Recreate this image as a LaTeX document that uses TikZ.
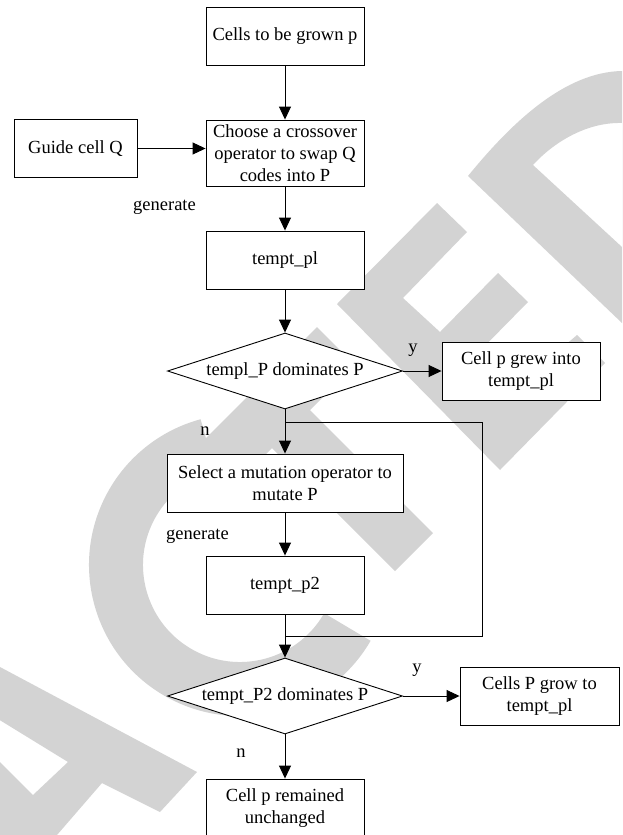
\documentclass[tikz,border=0pt]{standalone}
\usepackage{fontspec}
\setmainfont{Liberation Serif}
\usetikzlibrary{shapes.geometric,arrows.meta}
\definecolor{wmark}{RGB}{211,211,211}
\tikzset{
  box/.style={draw, fill=white, line width=0.9pt, minimum width=158pt, minimum height=58pt, align=center, inner sep=1pt},
  decision/.style={draw, fill=white, line width=0.9pt, diamond, aspect=3.1, minimum width=235pt, minimum height=76pt, inner sep=0pt},
  flow/.style={line width=0.9pt, -{Triangle[length=13pt,width=12pt]}},
  tag/.style={inner sep=0pt},
}
\begin{document}
\begin{tikzpicture}[x=1pt, y=-1pt, font=\fontsize{18.5pt}{22pt}\selectfont]
\useasboundingbox (0,0) rectangle (622,835);

% Watermark
\begin{scope}
  \clip (0,0) rectangle (622,835);
  \fill[wmark, even odd rule] (468,176) .. controls (512,122) and (565,72) .. (622,71) -- (622,323) -- cycle
    (533,165) .. controls (552,144) and (585,122) .. (622,123) -- (622,247) -- cycle;
  \fill[wmark] (337,304) -- (437,203) -- (467,232) -- (403,298) -- (440,332) -- (498,273) -- (528,302)
    -- (470,361) -- (507,395) -- (577,335) -- (605,363) -- (500,470) -- cycle;
  \fill[wmark] (317,327) -- (189,455) -- (227,493) -- (272,448) -- (395,571) -- (433,533) -- (310,410) -- (355,365) -- cycle;
  \draw[wmark, line width=54pt] (240,565) ++(30:124) arc[start angle=30, end angle=255, radius=124];
  \fill[wmark, even odd rule] (0,667) -- (197,772) -- (160,812) -- (102,783) -- (57,835) -- (-2,835) -- (-2,667) -- cycle
    (-2,719) -- (68,762) -- (33,795) -- (-2,760) -- cycle;
\end{scope}

% Steps
\node[box] (grown) at (285,36.5) {Cells to be grown p};
\node[box, minimum width=123pt] (guide) at (75.5,148.5) {Guide cell Q};
\node[box, minimum height=66pt] (choose) at (285,153) {Choose a crossover\\operator to swap Q\\codes into P};
\node[box] (temptpl) at (285,260) {tempt\_pl};
\node[decision] (dom1) at (285,371) {templ\_P dominates P};
\node[box] (grew) at (521,371) {Cell p grew into\\tempt\_pl};
\node[box, minimum width=236pt] (select) at (285,483) {Select a mutation operator to\\mutate P};
\node[box] (temptp2) at (285,585) {tempt\_p2};
\node[decision] (dom2) at (285,696) {tempt\_P2 dominates P};
\node[box, minimum width=159pt] (grow) at (539.5,696) {Cells P grow to\\tempt\_pl};
\node[box] (unchanged) at (285,808) {Cell p remained\\unchanged};

% Labels
\node[tag] (gen1) at (164.5,207) {generate};
\node[tag] (gen2) at (197.5,536) {generate};
\node[tag] (yes1) at (413,350) {y};
\node[tag] (yes2) at (417,670) {y};
\node[tag] (no1) at (205,431) {n};
\node[tag] (no2) at (241,753) {n};

% Arrows
\draw[flow] (grown) -- (choose);
\draw[flow] (guide.east) -- (guide.east -| choose.west);
\draw[flow] (choose) -- (temptpl);
\draw[flow] (temptpl) -- (dom1);
\draw[flow] (dom1) -- (grew);
\draw[flow] (dom1) -- (select);
\draw[flow] (select) -- (temptp2);
\draw[flow] (temptp2) -- (dom2);
\draw[flow] (dom2) -- (grow);
\draw[flow] (dom2) -- (unchanged);

% Loop back
\coordinate (loopin) at (285,422);
\coordinate (loopturn) at (482,636);
\coordinate (loopout) at (285,636);
\draw[line width=0.9pt] (loopin) -| (loopturn) -- (loopout);
\end{tikzpicture}
\end{document}
